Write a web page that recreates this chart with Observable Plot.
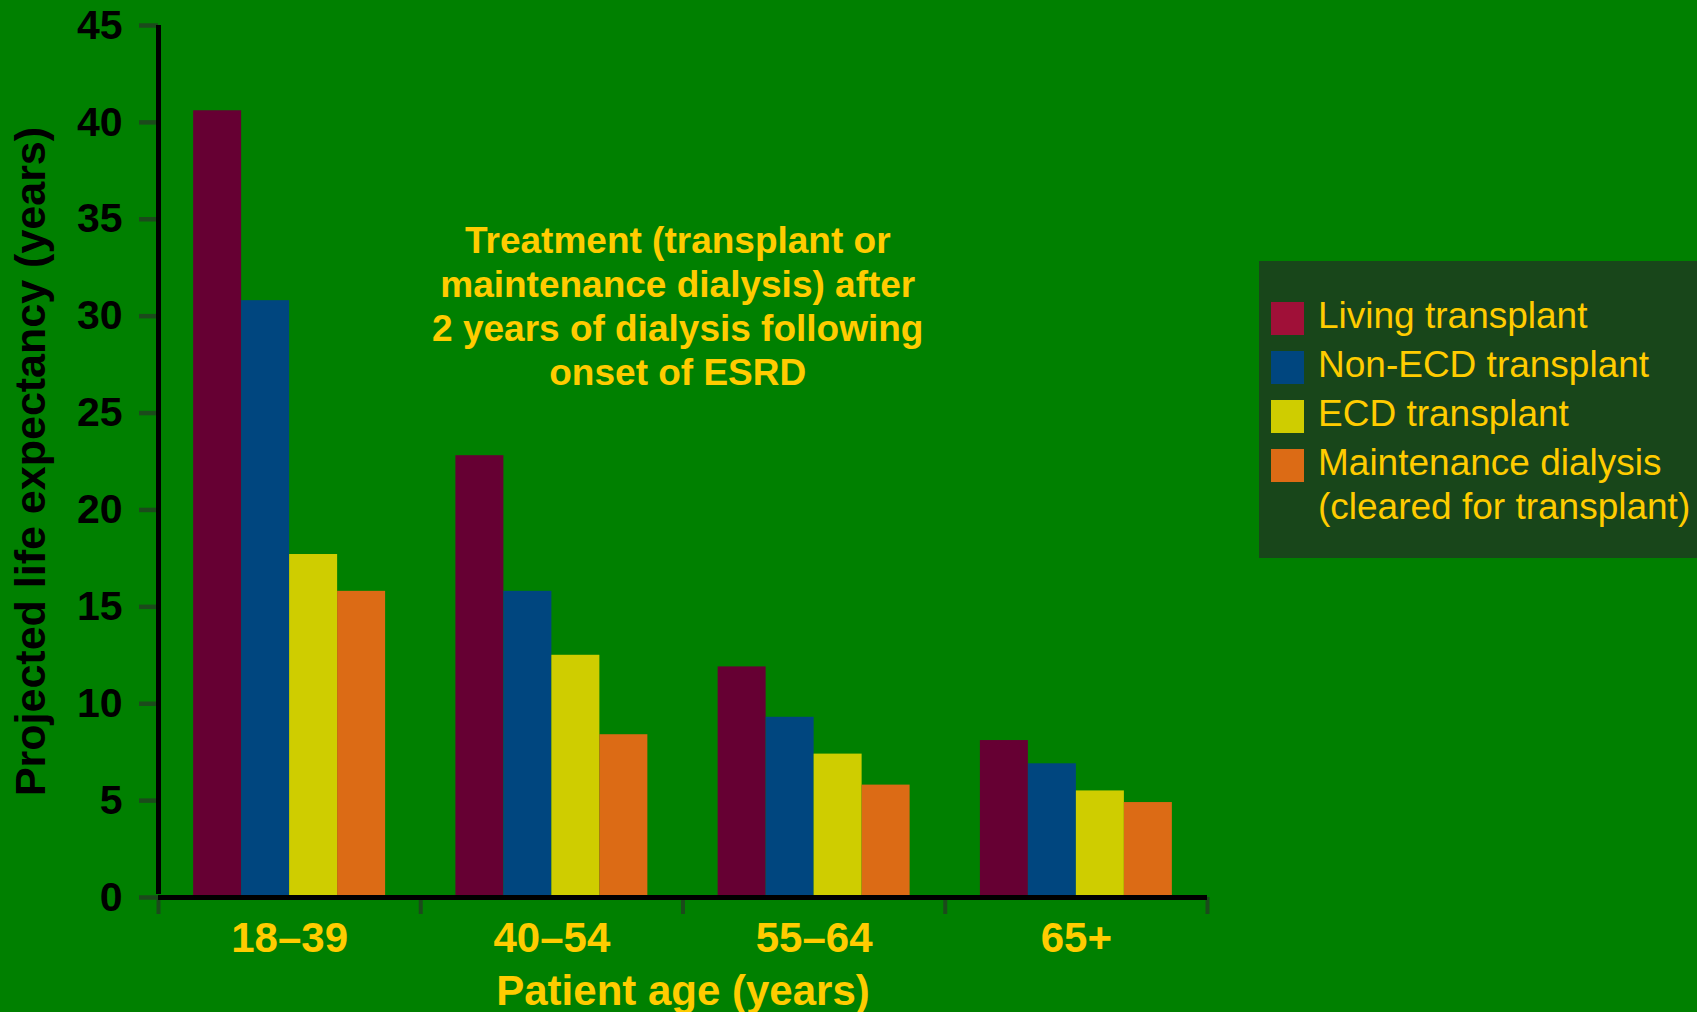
<!DOCTYPE html>
<html>
<head>
<meta charset="utf-8">
<script src="https://cdn.jsdelivr.net/npm/d3@7"></script>
<script src="https://cdn.jsdelivr.net/npm/@observablehq/plot@0.6"></script>
<style>
  html, body { margin: 0; padding: 0; background: #008000; }
  #wrap { position: relative; width: 1697px; height: 1012px; overflow: hidden; font-family: "Liberation Sans", Arial, sans-serif; }
  #chart { position: absolute; left: 0; top: 0; }
  #legend { position: absolute; left: 1259px; top: 261px; width: 438px; height: 297px; background: #18461a; box-sizing: border-box; padding-top: 33px; }
  .item { display: flex; align-items: flex-start; margin-bottom: 5px; }
  .sw { width: 33px; height: 33px; margin: 8px 14px 0 12px; flex: none; }
  .lab { font-size: 37px; line-height: 44px; color: #ffcc00; white-space: nowrap; }
</style>
</head>
<body>
<div id="wrap">
  <div id="chart"></div>
  <div id="legend"></div>
</div>
<script>
// ---- data ----
const ages = ["18–39", "40–54", "55–64", "65+"];
const series = ["Living transplant", "Non-ECD transplant", "ECD transplant", "Maintenance dialysis (cleared for transplant)"];
const living = [40.6, 22.8, 11.9, 8.1];
const nonEcd = [30.8, 15.8, 9.3, 6.9];
const ecd = [17.7, 12.5, 7.4, 5.5];
const dialysis = [15.8, 8.4, 5.8, 4.9];
const yTicks = [0, 5, 10, 15, 20, 25, 30, 35, 40, 45];
const barColors = ["#660033", "#00467f", "#cfcd00", "#dc6b15"];
const swatchColors = ["#a01038", "#00467f", "#cfcd00", "#dc6b15"];
const note = "Treatment (transplant or\nmaintenance dialysis) after\n2 years of dialysis following\nonset of ESRD";
const noteAnchor = [{pos: 1.98, value: 30.6, text: note}];

// ---- layout constants ----
const PAD = 0.134;   // space on each side of a group, as fraction of a category
const BW = 0.183;    // width of one bar, as fraction of a category
const yellow = "#ffcc00";
const tickGreen = "#1b4a1b";

const valuesBySeries = [living, nonEcd, ecd, dialysis];
const rows = ages.flatMap((age, i) => series.map((s, j) => ({age, series: s, value: valuesBySeries[j][i], i, j})));

const plot = Plot.plot({
  width: 1697,
  height: 1012,
  marginTop: 25,
  marginBottom: 115,
  marginLeft: 158,
  marginRight: 490,
  style: {background: "transparent", fontFamily: "'Liberation Sans', Arial, sans-serif", overflow: "visible"},
  x: {type: "linear", domain: [0, ages.length], axis: null},
  y: {type: "linear", domain: [0, 45], axis: null},
  color: {domain: series, range: barColors},
  marks: [
    Plot.axisX({ticks: d3.range(ages.length + 1), tickSize: 17, stroke: tickGreen, strokeWidth: 4, tickFormat: () => "", label: null}),
    Plot.axisX({
      ticks: ages.map((_, i) => i + 0.5), tickSize: 0, tickPadding: 25,
      tickFormat: v => ages[Math.floor(v)],
      fill: yellow, fontSize: 42, fontWeight: "bold",
      label: "Patient age (years)", labelAnchor: "center", labelArrow: "none", labelOffset: 107
    }),
    Plot.axisY({
      ticks: yTicks, tickSize: 19, tickPadding: 17, stroke: tickGreen, strokeWidth: 4.5,
      fill: "black", fontSize: 41, fontWeight: "bold", tickFormat: d => String(d), label: null
    }),
    Plot.axisY({
      ticks: [], tickSize: 0, fill: "black", fontSize: 43, fontWeight: "bold",
      label: "Projected life expectancy (years)", labelAnchor: "center", labelArrow: "none", labelOffset: 144
    }),
    Plot.rectY(rows, {
      x1: d => d.i + PAD + d.j * BW,
      x2: d => d.i + PAD + (d.j + 1) * BW,
      y: "value",
      fill: "series"
    }),
    Plot.ruleY([0], {stroke: "black", strokeWidth: 5}),
    Plot.ruleX([0], {y1: 0, y2: 45, stroke: "black", strokeWidth: 5, insetTop: -3}),
    Plot.text(noteAnchor, {
      x: "pos", y: "value", text: "text",
      fill: yellow, fontSize: 37, fontWeight: "bold", lineHeight: 1.19, lineAnchor: "middle", textAnchor: "middle"
    })
  ]
});
document.getElementById("chart").appendChild(plot);

// ---- legend ----
const legend = d3.select("#legend");
series.forEach((s, j) => {
  const item = legend.append("div").attr("class", "item");
  item.append("div").attr("class", "sw").style("background", swatchColors[j]);
  const parts = s.split(" (");
  const lab = item.append("div").attr("class", "lab");
  lab.append("div").text(parts[0]);
  if (parts.length > 1) lab.append("div").text("(" + parts[1]);
});
</script>
</body>
</html>
